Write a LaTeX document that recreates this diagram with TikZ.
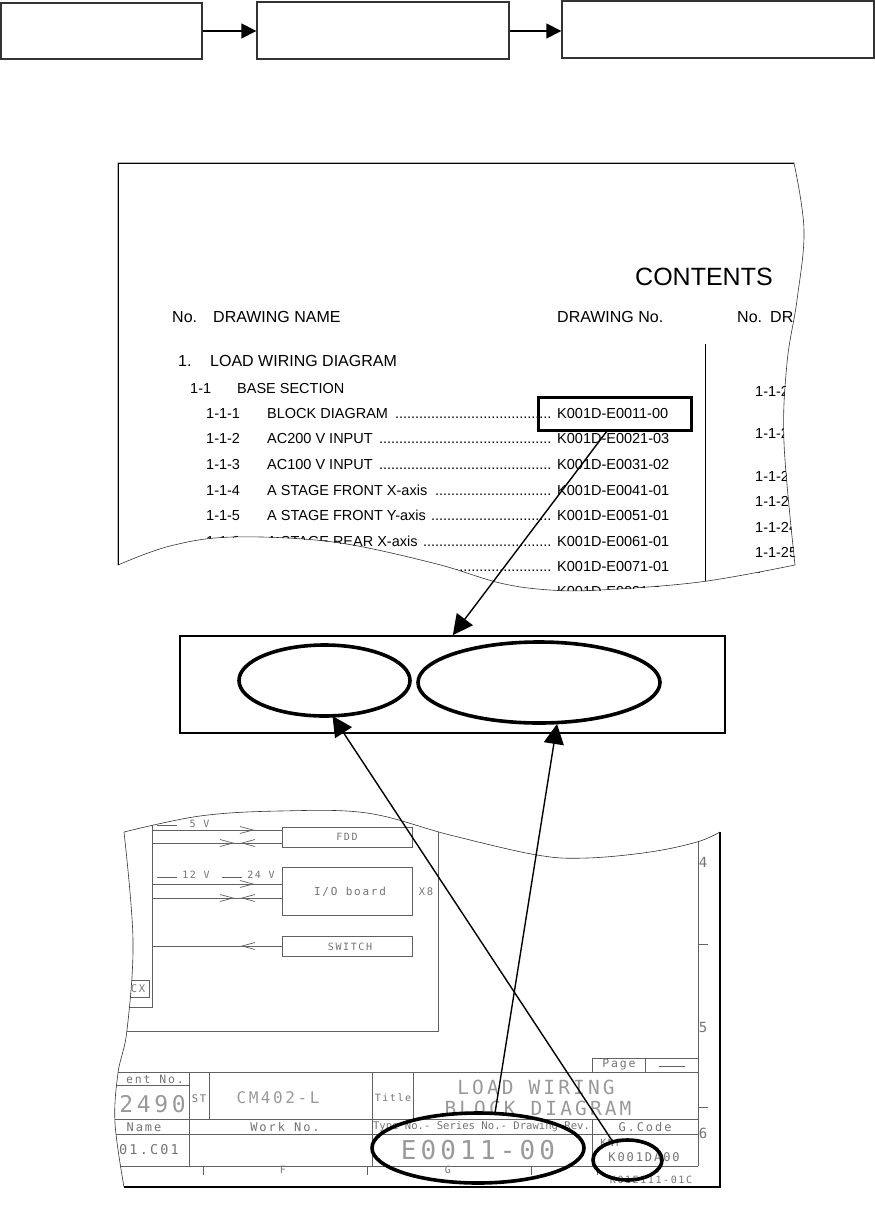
\documentclass[tikz,border=0pt]{standalone}
\usepackage{fontspec}
\setmainfont{Liberation Sans}
\newfontfamily\cadw[LetterSpace=16]{DejaVu Sans Mono}
\newfontfamily\cadn{DejaVu Sans Mono}
\usetikzlibrary{arrows.meta,shapes.geometric}
\newcommand{\pgone}{(118,163) -- (794,163) -- plot[smooth,tension=.6] coordinates {(794,163) (804,230) (797,300) (787,363) (784,443) (795,565)}
 -- plot[smooth,tension=.6] coordinates {(795,565) (700,582) (600,590) (550,590) (500,583) (433,563) (333,542) (233,537) (170,546) (118,565)} -- cycle}
\newcommand{\pgtwo}{(124,832) -- plot[smooth,tension=.6] coordinates {(124,832) (200,816) (280,811) (367,813) (450,835) (537,855) (587,858) (650,852) (697,842) (720,832)}
 -- (720,1187) -- (124,1187) -- plot[smooth,tension=.6] coordinates {(124,1187) (115,1123) (118,1073) (127,1030) (133,940) (124,832)} -- cycle}
\tikzset{
 topbox/.style={draw=black!80,line width=1.4pt,inner sep=0pt},
 flow/.style={line width=1.6pt,-{Triangle[length=15pt,width=15pt]}},
 call/.style={line width=1.4pt,-{Triangle[length=20pt,width=20pt]}},
 ring/.style={draw=black,line width=3.6pt,ellipse,inner sep=0pt},
 row/.style={anchor=west,inner sep=0pt,text height=10.5pt,text depth=0pt,font=\fontsize{14.5}{16}\selectfont},
 hd/.style={anchor=west,inner sep=0pt,text height=11.4pt,text depth=0pt,font=\fontsize{16}{17}\selectfont},
 cadline/.style={draw=black!62,line width=.7pt},
 cadbox/.style={draw=black!62,line width=.7pt,inner sep=0pt},
 cadt/.style={inner sep=0pt,text=black!55},
 cadbig/.style={inner sep=0pt,text=black!40},
}
\newcommand{\cs}[1]{\cadw\fontsize{#1}{#1}\selectfont}
\begin{document}
\begin{tikzpicture}[x=1pt,y=-1pt]
\useasboundingbox (0,0) rectangle (875,1205);
% top flow
\node[topbox,minimum width=201pt,minimum height=56pt] (b1) at (101.5,31) {};
\node[topbox,minimum width=252pt,minimum height=57pt] (b2) at (383,30.5) {};
\node[topbox,minimum width=312pt,minimum height=57pt] (b3) at (718,29.5) {};
\draw[flow] (b1.east) -- (b1.east -| b2.west);
\draw[flow] (b1.east -| b2.east) -- (b1.east -| b3.west);
% contents page
\begin{scope}
\clip \pgone;
\node[anchor=west,inner sep=0pt,font=\fontsize{25}{27}\selectfont] (ct) at (635,277) {CONTENTS};
\node[hd] (h1) at (172,317) {No.};
\node[hd] (h2) at (213,317) {DRAWING NAME};
\node[hd] (h3) at (557,317) {DRAWING No.};
\node[hd] (h4) at (737,317) {No.};
\node[hd] (h5) at (770,317) {DRA};
\node[hd] (s1) at (178,361) {1.};
\node[hd] (s2) at (210,361) {LOAD WIRING DIAGRAM};
\node[row] (s3) at (190,388) {1-1};
\node[row] (s4) at (237,388) {BASE SECTION};
\foreach \nm/\yy/\num/\ttl/\dno in {
 r1/413/1-1-1/BLOCK DIAGRAM/K001D-E0011-00,
 r2/438.5/1-1-2/AC200 V INPUT/K001D-E0021-03,
 r3/464/1-1-3/AC100 V INPUT/K001D-E0031-02,
 r4/490/1-1-4/A STAGE FRONT X-axis/K001D-E0041-01,
 r5/515/1-1-5/A STAGE FRONT Y-axis/K001D-E0051-01,
 r6/541/1-1-6/A STAGE REAR X-axis/K001D-E0061-01,
 r7/566/{}/{}/K001D-E0071-01,
 r8/591.5/{}/{}/K001D-E0081-01}{
 \node[row] (\nm a) at (206,\yy) {\num};
 \node[row] (\nm b) at (267,\yy) {\hbox to 286pt{\ttl\ \leaders\hbox to 4pt{\hss.\hss}\hfill}};
 \node[row] (\nm c) at (557,\yy) {\dno};
}
\foreach \nm/\yy/\num in {q1/391/1-1-2,q2/433/1-1-2,q3/476/1-1-2,q4/501/1-1-2,q5/527/1-1-24,q6/552/1-1-25,q7/577/1-1-26}{
 \node[row] (\nm) at (755,\yy) {\num};
}
\draw[line width=.8pt] (705,344) -- (705,600);
\end{scope}
\draw[line width=.6pt,draw=black!80] \pgone;
\draw[line width=1pt] (118,565) -- (118,163) -- (794,163);
\node[draw=black,line width=3pt,inner sep=0pt,minimum width=153pt,minimum height=33pt] (kbox) at (615,414) {};
% middle strip
\node[draw=black,line width=1.8pt,inner sep=0pt,minimum width=545pt,minimum height=97pt] (mid) at (452.8,684.5) {};
\node[ring,minimum width=171pt,minimum height=71pt] (e1) at (324.5,680.5) {};
\node[ring,minimum width=242pt,minimum height=81pt] (e2) at (539,682.5) {};
% drawing sheet
\begin{scope}
\clip \pgtwo;
\draw[cadline] (152,800) -- (438,800) (438,800) -- (438,1031) -- (100,1031);
\draw[cadline] (152,800) -- (152,1007) -- (100,1007);
\node[cadbox,minimum width=130pt,minimum height=20pt] (fdd) at (347,837) {};
\node[cadbox,minimum width=130pt,minimum height=48pt] (io) at (347,891) {};
\node[cadbox,minimum width=130pt,minimum height=20pt] (sw) at (347,946) {};
\node[cadbox,minimum width=29pt,minimum height=17pt] (cxb) at (134.5,988.5) {};
\node[cadt,font=\cs{10.5}] (cxt) at (138,988.5) {CX};
\node[cadt,font=\cs{10}] (fddt) at (347,837) {FDD};
\node[cadt,font=\cs{11}] (iot) at (350,892) {I/O board};
\node[cadt,font=\cs{10}] (swt) at (350,947) {SWITCH};
\node[cadt,font=\cs{10.5}] (x8) at (426,892) {X8};
\node[cadt,font=\cs{10}] (v5) at (199.5,824) {5 V};
\node[cadt,font=\cs{10}] (v12) at (196,875) {12 V};
\node[cadt,font=\cs{10}] (v24) at (261,875) {24 V};
\draw[cadline] (157,825) -- (177,825) (157,877) -- (177,877) (222,877) -- (242,877);
\foreach \yy in {830,884}{
 \draw[cadline] (152,\yy) -- (282,\yy);
 \draw[cadline] (240,\yy-3.5) -- (253,\yy) -- (240,\yy+3.5);
}
\foreach \yy in {843,898}{
 \draw[cadline] (152,\yy) -- (282,\yy);
 \draw[cadline] (220,\yy-3.5) -- (233,\yy) -- (220,\yy+3.5);
 \draw[cadline] (255,\yy-3.5) -- (242,\yy) -- (255,\yy+3.5);
}
\draw[cadline] (152,946) -- (282,946);
\draw[cadline] (255,942.5) -- (242,946) -- (255,949.5);
% title block
\draw[cadline] (698,800) -- (698,1166) (698,944) -- (708,944) (698,1107) -- (708,1107);
\draw[cadline] (100,1072) -- (698,1072) (372,1119) -- (698,1119) (100,1085) -- (189,1085)
 (100,1119) -- (372,1119) (100,1134) -- (698,1134) (100,1166) -- (698,1166);
\draw[cadline] (189,1072) -- (189,1166) (209,1072) -- (209,1119) (372,1072) -- (372,1166)
 (413,1072) -- (413,1119) (592,1058) -- (592,1072) (592,1119) -- (592,1166)
 (592,1058) -- (698,1058) (645,1058) -- (645,1072) (659,1066) -- (685,1066);
\draw[cadline] (203,1166) -- (203,1175) (367,1166) -- (367,1175) (531,1166) -- (531,1175) (597,1166) -- (597,1175);
\node[cadt,font=\cs{14}] (n4) at (703,862) {4};
\node[cadt,font=\cs{14}] (n5) at (703,1027) {5};
\node[cadt,font=\cs{14}] (n6) at (703,1133) {6};
\node[cadt,font=\cs{11.5},anchor=east] (t1) at (184,1079) {ent No.};
\node[cadbig,font=\cs{23},anchor=east] (t2) at (186,1104) {2490};
\node[cadt,font=\cs{10.5}] (t3) at (199,1099) {ST};
\node[cadbig,font=\cs{16}] (t4) at (278,1098) {CM402-L};
\node[cadt,font=\cs{10}] (t5) at (393,1098) {Title};
\node[cadbig,font=\cs{19.5}] (t6) at (536,1087) {LOAD WIRING};
\node[cadbig,font=\cs{19.5}] (t7) at (538,1108) {BLOCK DIAGRAM};
\node[cadt,font=\cs{11.5}] (t8) at (619,1065) {Page};
\node[cadt,font=\cs{12}] (t9) at (144,1127) {Name};
\node[cadt,font=\cs{12}] (t10) at (285,1127) {Work No.};
\node[cadt,font={\cadn\fontsize{10.6}{11}\selectfont}] (t11) at (481.5,1127) {Type No.- Series No.- Drawing Rev.};
\node[cadt,font=\cs{12}] (t12) at (645,1127) {G.Code};
\node[cadt,font=\cs{13.5}] (t13) at (149,1150) {01.C01};
\node[cadbig,font=\cs{26}] (t14) at (478,1150) {E0011-00};
\node[cadt,font=\cs{10}] (t15) at (611,1143) {KNF};
\node[cadt,font=\cs{12}] (t16) at (644,1157) {K001DA00};
\node[cadt,font=\cs{10}] (t17) at (119,1170) {E};
\node[cadt,font=\cs{10}] (t18) at (283,1170) {F};
\node[cadt,font=\cs{10}] (t19) at (448,1170) {G};
\node[cadt,font=\cs{10}] (t20) at (651,1180) {K01E111-01C};
\end{scope}
\draw[line width=.6pt,draw=black!80] plot[smooth,tension=.6] coordinates {(124,1187) (115,1123) (118,1073) (127,1030) (133,940) (124,832)};
\draw[line width=.6pt,draw=black!80] plot[smooth,tension=.6] coordinates {(124,832) (200,816) (280,811) (367,813) (450,835) (537,855) (587,858) (650,852) (697,842) (720,832)};
\draw[line width=1.8pt] (720,832) -- (720,1187) -- (124,1187);
\node[ring,minimum width=212pt,minimum height=70pt] (e3) at (478,1148) {};
\node[ring,minimum width=69pt,minimum height=40pt] (e4) at (627.5,1160) {};
% connectors
\coordinate (ka) at (607,431);
\coordinate (e1t) at (332.5,716);
\coordinate (e2t) at (557,724);
\coordinate (e3t) at (495,1113);
\coordinate (e4t) at (613,1142);
\draw[call] (ka) -- (mid.north);
\draw[call] (e4t) -- (e1t);
\draw[call] (e3t) -- (e2t);
\end{tikzpicture}
\end{document}
